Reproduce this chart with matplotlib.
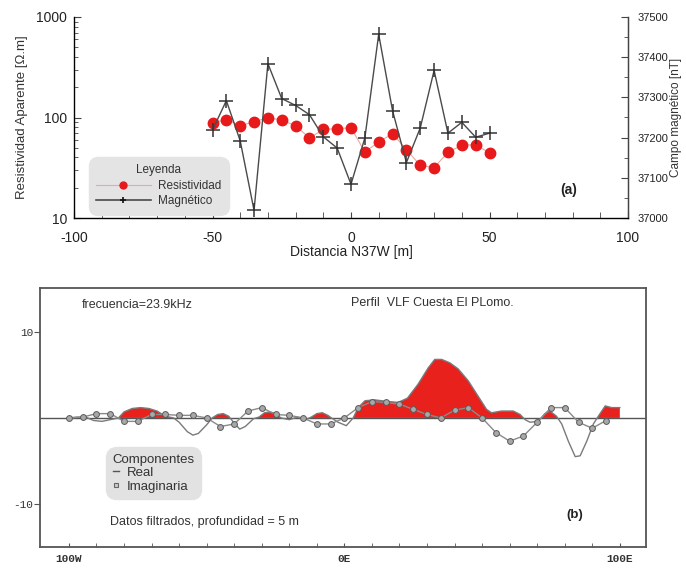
import matplotlib
matplotlib.use("Agg")
import matplotlib.pyplot as plt
from matplotlib.lines import Line2D
from matplotlib.ticker import MultipleLocator, FixedLocator, NullFormatter, LogLocator

plt.rcParams['font.family'] = ['Liberation Sans', 'DejaVu Sans']
plt.rcParams['axes.unicode_minus'] = False

# ---------------- data: panel (a) ----------------
distance = [-50, -45, -40, -35, -30, -25, -20, -15, -10, -5, 0,
            5, 10, 15, 20, 25, 30, 35, 40, 45, 50]
resistivity = [88.5, 95.5, 83, 90.5, 100, 94, 83, 62.5, 76, 77.5, 79,
               45.5, 57, 69, 48, 33.3, 31.8, 45, 52.8, 53.7, 44.3]
magnetic = [37219, 37292, 37192, 37019, 37384, 37297, 37280, 37257, 37202, 37174, 37084,
            37199, 37457, 37267, 37138, 37224, 37367, 37211, 37238, 37201, 37211]

# ---------------- data: panel (b) ----------------
real_x = [-100, -97, -94, -91, -88, -85, -82, -80, -77, -74, -71, -68, -65, -62, -60,
          -57, -55, -53, -50, -48, -46, -44, -42, -40, -38, -36, -33, -31, -29, -27,
          -25, -23, -20, -17, -14, -12, -10, -8, -6, -4.7, -2.3, 0.7, 3.2, 5, 7.5,
          11, 14.7, 19.5, 22.9, 26.7, 30.4, 32.8, 35.3, 38.3, 41.3, 45, 48.6, 51.6,
          53.4, 57, 61.3, 63.8, 65.6, 67.4, 70.4, 72.8, 74.6, 77, 78.9, 81.3, 83.8,
          85.6, 88, 90.4, 92.2, 94.7, 97, 100]
real_y = [0.0, 0.1, 0.1, -0.3, -0.4, -0.2, 0.0, 0.7, 1.1, 1.2, 1.1, 0.8, 0.2, 0.0, -0.5,
          -1.6, -2.0, -1.8, -0.8, 0.0, 0.4, 0.5, 0.2, -0.6, -1.3, -1.0, -0.1, 0.1, 0.6, 0.7,
          0.5, 0.0, -0.2, 0.1, -0.2, 0.1, 0.5, 0.6, 0.3, 0.0, -0.5, -0.9, 0.0, 1.2, 2.0,
          2.1, 1.95, 1.8, 2.3, 3.9, 5.8, 6.8, 6.8, 6.4, 5.7, 4.3, 2.5, 1.0,
          0.6, 0.8, 0.8, 0.4, -0.2, -0.5, -0.4, 0.5, 0.8, 0.2, -0.7, -2.7, -4.5,
          -4.4, -2.7, -0.7, 0.2, 1.4, 1.2, 1.2]
imag_x = [-100, -95, -90, -85, -80, -75, -70, -65, -60, -55, -50, -45, -40, -35, -30,
          -25, -20, -15, -10, -5, 0, 5, 10, 15, 20, 25, 30, 35, 40, 45, 50, 55, 60,
          65, 70, 75, 80, 85, 90, 95]
imag_y = [0.0, 0.1, 0.5, 0.5, -0.4, -0.4, 0.4, 0.4, 0.3, 0.3, 0.0, -1.0, -0.7, 0.8, 1.2,
          0.4, 0.3, 0.0, -0.7, -0.7, 0.0, 1.2, 1.9, 1.8, 1.6, 1.0, 0.4, 0.0, 0.9, 1.2,
          0.0, -1.7, -2.7, -2.1, -0.5, 1.2, 1.2, -0.5, -1.2, -0.3]

W, H = 686, 570
fig = plt.figure(figsize=(W / 100, H / 100), dpi=100)
fig.patch.set_facecolor('white')

def fx(px):
    return px / W

def fy(py):
    return 1 - py / H

# ================= panel (a) =================
ax = fig.add_axes([fx(74), fy(218), fx(628) - fx(74), fy(17) - fy(218)])
ax.set_yscale('log')
ax.set_xlim(-100, 100)
ax.set_ylim(10, 1000)
ax.plot(distance, resistivity, color='#eaa8a0', lw=0.8, zorder=3)
ax.plot(distance, resistivity, 'o', color='#e8191b', ms=7.5, mec='#e8191b', zorder=4)
ax.spines['top'].set_visible(False)
for s in ['left', 'bottom', 'right']:
    ax.spines[s].set_color('#444444')
    ax.spines[s].set_linewidth(1.0)
ax.xaxis.set_major_locator(MultipleLocator(50))
ax.xaxis.set_minor_locator(MultipleLocator(10))
ax.yaxis.set_major_locator(LogLocator(base=10))
ax.yaxis.set_minor_locator(LogLocator(base=10, subs=range(2, 10)))
ax.yaxis.set_minor_formatter(NullFormatter())
ax.set_yticks([10, 100, 1000])
ax.set_yticklabels(['10', '100', '1000'])
ax.tick_params(axis='both', which='both', direction='in', colors='#444444',
               labelcolor='#222222', labelsize=10)
ax.tick_params(axis='x', which='major', length=4, pad=9)
ax.tick_params(axis='x', which='minor', length=4)
ax.tick_params(axis='y', which='major', length=5, pad=5)
ax.tick_params(axis='y', which='minor', length=3)
ax.set_xlabel('Distancia N37W [m]', fontsize=10, color='#222222', labelpad=0)
ax.set_ylabel('Resistividad Aparente [Ω.m]', fontsize=9.5, color='#333333', labelpad=6)

ax2 = ax.twinx()
ax2.set_ylim(37000, 37500)
ax2.plot(distance, magnetic, color='#4a4a4a', lw=1.0, marker='+', ms=10, mew=1.1,
         mec='#333333', zorder=3)
ax2.spines['top'].set_visible(False)
ax2.spines['right'].set_color('#444444')
ax2.yaxis.set_major_locator(MultipleLocator(100))
ax2.yaxis.set_minor_locator(MultipleLocator(50))
ax2.tick_params(axis='y', which='both', direction='in', colors='#444444',
                labelcolor='#222222', labelsize=8, pad=7)
ax2.tick_params(axis='y', which='major', length=5)
ax2.tick_params(axis='y', which='minor', length=3)
ax2.set_ylabel('Campo magnético [nT]', fontsize=8.5, color='#333333', labelpad=1)

h1 = Line2D([], [], color='#eaa8a0', lw=0.8, marker='o', ms=5, mfc='#e8191b', mec='#e8191b')
h2 = Line2D([], [], color='#4a4a4a', lw=1.2, marker='+', ms=5, mew=1.2, mec='#111111')
leg = ax2.legend([h1, h2], ['Resistividad', 'Magnético'], title='Leyenda',
                 loc='upper left', bbox_to_anchor=(fx(85), fy(153)),
                 bbox_transform=fig.transFigure, fontsize=8.5, title_fontsize=8.5,
                 handlelength=4.6, handletextpad=0.6, fancybox=True,
                 facecolor='#e4e4e4', edgecolor='#e4e4e4', framealpha=1,
                 borderpad=0.45, labelspacing=0.3)
leg.get_frame().set_boxstyle('round,pad=0.2,rounding_size=0.8')
for t in leg.get_texts():
    t.set_color('#333333')
leg.get_title().set_color('#333333')

ax2.text(0.878, 0.14, '(a)', transform=ax.transAxes, fontsize=10, fontweight='bold',
         color='#222222', ha='left', va='center')

# ================= panel (b) =================
bx = fig.add_axes([fx(40), fy(547), fx(646) - fx(40), fy(288) - fy(547)])
bx.set_xlim(-110.5, 109.5)
bx.set_ylim(-15.0, 15.1)
bx.fill_between(real_x, real_y, 0, where=[v > 0 for v in real_y], interpolate=True,
                color='#e8211d', lw=0, zorder=2)
bx.axhline(0, color='#555555', lw=1.0, zorder=3)
bx.plot(real_x, real_y, color='#7a7a7a', lw=1.0, zorder=4)
bx.plot(imag_x, imag_y, color='#8a8a8a', lw=1.0, marker='o', ms=4.2,
        mfc='#a8a8a8', mec='#5a5a5a', mew=0.7, zorder=5)
for s in bx.spines.values():
    s.set_color('#555555')
    s.set_linewidth(1.3)
mono = ['Liberation Mono', 'DejaVu Sans Mono']
bx.set_yticks([-10, 10])
bx.set_yticklabels(['-10', '10'], fontfamily=mono, fontsize=8)
bx.tick_params(axis='y', direction='out', length=4, colors='#555555', labelcolor='#333333', pad=1)
bx.set_xticks([-100, 0, 100])
bx.set_xticklabels(['100W', '0E', '100E'], fontfamily=mono, fontsize=8, fontweight='bold')
bx.xaxis.set_minor_locator(FixedLocator(list(range(-90, 100, 10))))
bx.tick_params(axis='x', which='both', direction='in', length=3, colors='#555555',
               labelcolor='#333333', pad=5)

bx.text(fx(82), fy(305), 'frecuencia=23.9kHz', transform=fig.transFigure, fontsize=9,
        color='#333333', va='center')
bx.text(fx(351), fy(303), 'Perfil  VLF Cuesta El PLomo.', transform=fig.transFigure,
        fontsize=9, color='#333333', va='center')
bx.text(fx(110), fy(522), 'Datos filtrados, profundidad = 5 m', transform=fig.transFigure,
        fontsize=9, color='#333333', va='center')
bx.text(fx(566), fy(515), '(b)', transform=fig.transFigure, fontsize=9.5,
        fontweight='bold', color='#222222', va='center')

g1 = Line2D([], [], color='#555555', lw=1.0)
g2 = Line2D([], [], color='none', marker='s', ms=3.5, mfc='#cccccc', mec='#666666', mew=0.8)
leg2 = bx.legend([g1, g2], ['Real', 'Imaginaria'], title='Componentes',
                 loc='upper left', bbox_to_anchor=(fx(102), fy(443)),
                 bbox_transform=fig.transFigure, fontsize=9.5, title_fontsize=9.5,
                 handlelength=0.5, handletextpad=0.6, alignment='left',
                 fancybox=True, facecolor='#e2e2e2', edgecolor='#e2e2e2', framealpha=1,
                 borderpad=0.3, labelspacing=0.1)
leg2.get_frame().set_boxstyle('round,pad=0.2,rounding_size=0.8')
for t in leg2.get_texts():
    t.set_color('#333333')
leg2.get_title().set_color('#333333')

fig.savefig('out.png', dpi=100, facecolor='white')
